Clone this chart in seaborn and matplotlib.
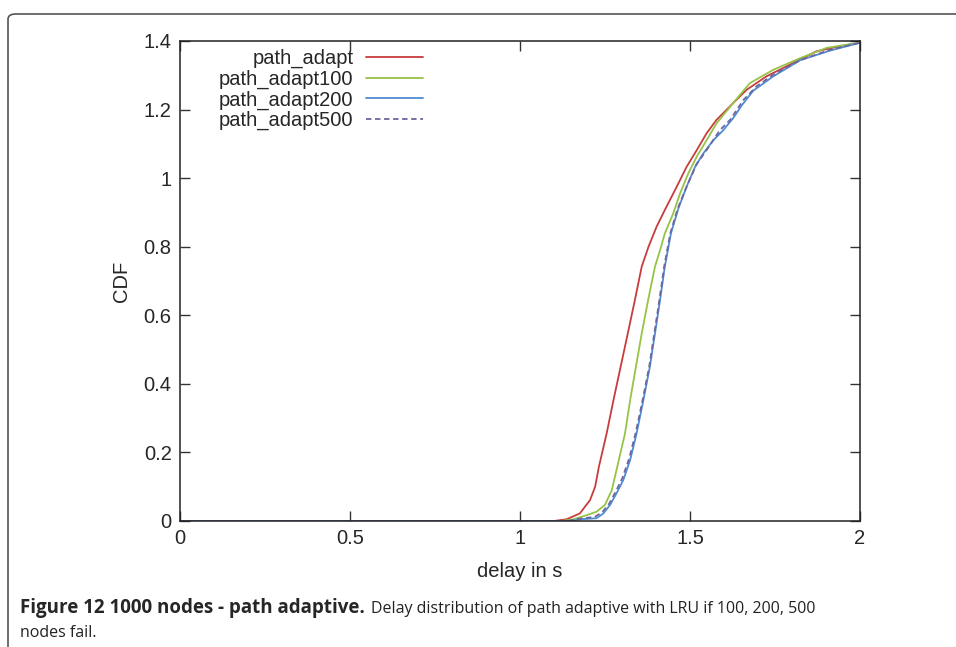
import matplotlib
matplotlib.use('Agg')
import matplotlib.pyplot as plt
from matplotlib.patches import FancyBboxPatch
import pandas as pd
import seaborn as sns

sns.set_style('ticks')
plt.rcParams['font.family'] = ['Liberation Sans', 'DejaVu Sans']

# delay (s) / CDF readings for each run
series_names = ['path_adapt', 'path_adapt100', 'path_adapt200', 'path_adapt500']
red_x = [0, 1.10, 1.137, 1.176, 1.206, 1.221, 1.232, 1.255, 1.275, 1.296, 1.317, 1.338,
         1.358, 1.378, 1.402, 1.431, 1.461, 1.490, 1.520, 1.549, 1.578, 1.627, 1.667,
         1.725, 1.804, 1.872, 1.941, 2.0]
red_y = [0, 0, 0.005, 0.022, 0.061, 0.1, 0.158, 0.256, 0.353, 0.45, 0.547, 0.645,
         0.742, 0.80, 0.859, 0.917, 0.975, 1.033, 1.082, 1.131, 1.170, 1.219, 1.258,
         1.297, 1.336, 1.370, 1.385, 1.395]
green_x = [0, 1.12, 1.157, 1.196, 1.225, 1.25, 1.27, 1.286, 1.309, 1.324, 1.341, 1.358,
           1.377, 1.397, 1.412, 1.426, 1.451, 1.471, 1.495, 1.520, 1.549, 1.578, 1.627,
           1.676, 1.745, 1.824, 1.902, 2.0]
green_y = [0, 0, 0.005, 0.017, 0.027, 0.047, 0.09, 0.158, 0.256, 0.353, 0.45, 0.547,
           0.645, 0.742, 0.79, 0.839, 0.898, 0.956, 1.014, 1.063, 1.111, 1.160, 1.219,
           1.277, 1.316, 1.350, 1.380, 1.395]
blue_x = [0, 1.15, 1.176, 1.225, 1.245, 1.265, 1.284, 1.304, 1.324, 1.343, 1.363, 1.382,
          1.397, 1.412, 1.426, 1.444, 1.466, 1.490, 1.515, 1.539, 1.569, 1.598, 1.627,
          1.652, 1.686, 1.745, 1.824, 1.912, 2.0]
blue_y = [0, 0, 0.005, 0.008, 0.022, 0.047, 0.081, 0.12, 0.178, 0.256, 0.353, 0.45,
          0.547, 0.645, 0.742, 0.839, 0.912, 0.975, 1.033, 1.072, 1.111, 1.140, 1.175,
          1.212, 1.255, 1.297, 1.344, 1.372, 1.395]
purple_x = [0, 1.14, 1.17, 1.22, 1.242, 1.262, 1.281, 1.301, 1.321, 1.341, 1.361, 1.380,
            1.395, 1.410, 1.424, 1.442, 1.464, 1.490, 1.520, 1.549, 1.588, 1.618, 1.657,
            1.696, 1.745, 1.824, 1.910, 2.0]
purple_y = [0, 0, 0.006, 0.012, 0.026, 0.05, 0.085, 0.125, 0.182, 0.26, 0.355, 0.45,
            0.547, 0.645, 0.742, 0.839, 0.912, 0.975, 1.042, 1.082, 1.14, 1.17, 1.228,
            1.268, 1.302, 1.344, 1.374, 1.395]

colors = ['#c83c3c', '#96c346', '#4f8bd2', '#6e669e']
styles = ['-', '-', '-', (0, (3, 2))]

fig = plt.figure(figsize=(9.56, 6.47), dpi=100)
ax = fig.add_axes([180 / 956, 1 - 521 / 647, 680 / 956, 480 / 647])

data = [(red_x, red_y), (green_x, green_y), (blue_x, blue_y), (purple_x, purple_y)]
for name, (xs, ys), c, ls in zip(series_names, data, colors, styles):
    df = pd.DataFrame({'delay': xs, 'cdf': ys})
    sns.lineplot(data=df, x='delay', y='cdf', ax=ax, color=c, lw=1.3,
                 sort=False, estimator=None, label=name, linestyle=ls)

ax.set_xlim(0, 2)
ax.set_ylim(0, 1.4)
ax.set_xticks([0, 0.5, 1, 1.5, 2])
ax.set_xticklabels(['0', '0.5', '1', '1.5', '2'])
ax.set_yticks([0, 0.2, 0.4, 0.6, 0.8, 1, 1.2, 1.4])
ax.set_yticklabels(['0', '0.2', '0.4', '0.6', '0.8', '1', '1.2', '1.4'])
ax.tick_params(direction='in', length=7, width=1, top=True, right=True,
               labelsize=14.5, pad=6, color='#333333')
for s in ax.spines.values():
    s.set_linewidth(1.1)
    s.set_color('#222222')
ax.set_xlabel('delay in s', fontsize=14.5, labelpad=10)
ax.set_ylabel('CDF', fontsize=14.5, labelpad=9)

leg = ax.legend(loc='upper right', bbox_to_anchor=(0.369, 1.0), frameon=False,
                markerfirst=False, fontsize=14.5, handlelength=2.8, handletextpad=0.65,
                labelspacing=0.07, borderaxespad=0)

# outer figure frame with rounded corner
frame = FancyBboxPatch((8 / 956, -0.05), 1.05, 1 - 14 / 647 + 0.05,
                       boxstyle='round,pad=0,rounding_size=0.008',
                       transform=fig.transFigure, fill=False,
                       edgecolor='#555555', lw=1.2, clip_on=False)
fig.patches.append(frame)

cap_font = ['Open Sans', 'DejaVu Sans']
t1 = fig.text(20 / 956, 1 - 613 / 647, 'Figure 12 1000 nodes - path adaptive.',
              fontsize=13.5, fontweight='bold', family=cap_font, va='baseline')
fig.canvas.draw()
bb = t1.get_window_extent()
fig.text((bb.x1 + 6) / 956, 1 - 613 / 647,
         'Delay distribution of path adaptive with LRU if 100, 200, 500',
         fontsize=11.5, family=cap_font, va='baseline', color='#222222')
fig.text(20 / 956, 1 - 637 / 647, 'nodes fail.', fontsize=11.5, family=cap_font,
         va='baseline', color='#222222')

fig.savefig('out.png', dpi=100)
